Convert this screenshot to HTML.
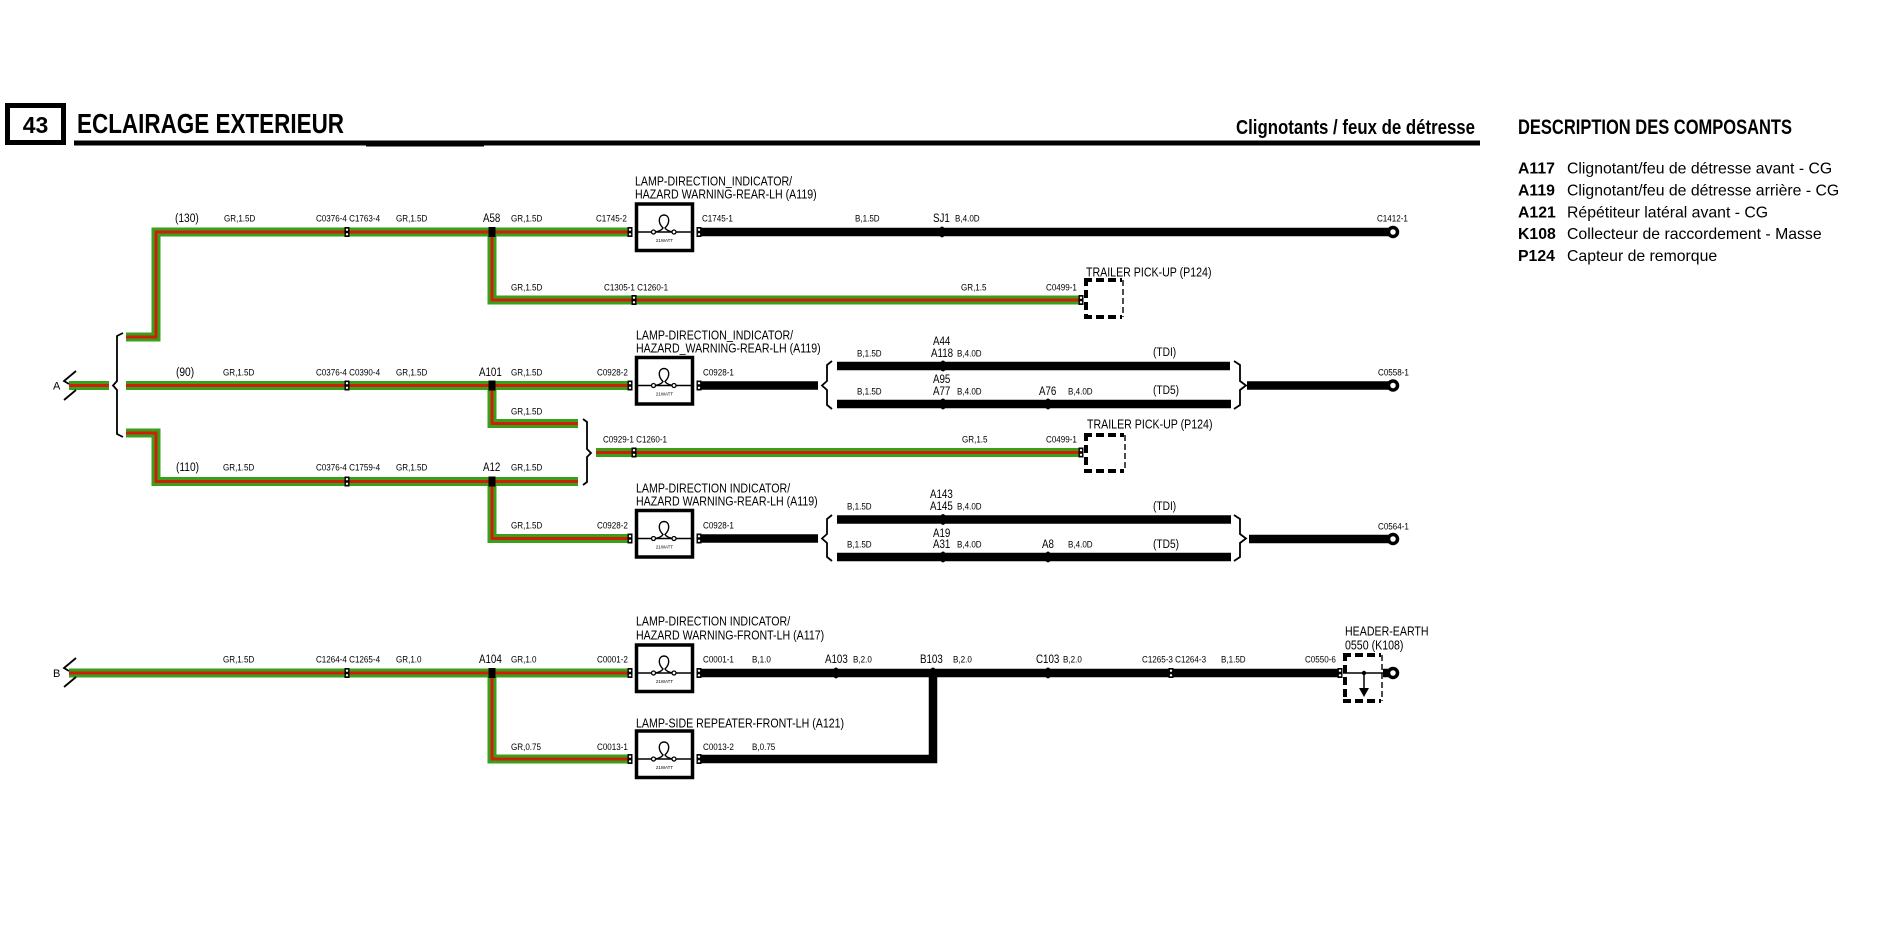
<!DOCTYPE html>
<html>
<head>
<meta charset="utf-8">
<style>
html,body{margin:0;padding:0;background:#fff;}
body{width:1886px;height:927px;overflow:hidden;}
svg{display:block;}
text{font-family:"Liberation Sans",Arial,sans-serif;fill:#000;}
.s{font-size:9.5px;}
.m{font-size:11.5px;}
.p{font-size:12px;}
.b{font-size:12.5px;}
.s,.m,.p,.b{transform-box:fill-box;transform-origin:0 0;transform:scaleX(0.85);}
.gw{fill:none;stroke:#39a01c;stroke-width:9;stroke-linejoin:miter;stroke-linecap:butt;}
.rw{fill:none;stroke:#cf1f0b;stroke-width:3;stroke-linejoin:miter;stroke-linecap:butt;}
.bw{fill:none;stroke:#000;stroke-width:8.5;stroke-linejoin:miter;stroke-linecap:butt;}
.br{fill:none;stroke:#000;stroke-width:1.8;stroke-linejoin:miter;}
.dt{fill:none;stroke:#000;stroke-width:4;stroke-dasharray:8 4;}
.dn{fill:none;stroke:#000;stroke-width:1.4;stroke-dasharray:6 3;}
.lb{fill:#fff;stroke:#000;stroke-width:3.5;}
.ln{fill:none;stroke:#000;stroke-width:1.4;}
.cir{fill:#fff;stroke:#000;stroke-width:1.3;}
.ring{fill:#fff;stroke:#000;stroke-width:3.5;}
</style>
</head>
<body>
<svg width="1886" height="927" viewBox="0 0 1886 927" xmlns="http://www.w3.org/2000/svg">
<defs>
  <g id="cn">
    <rect x="-2.5" y="-5" width="5" height="10" fill="#000"/>
    <circle cx="0" cy="-2.3" r="1.2" fill="#fff"/>
    <circle cx="0" cy="2.3" r="1.2" fill="#fff"/>
  </g>
  <g id="lamp">
    <rect class="lb" x="636.5" y="-28" width="56" height="46.5"/>
    <line x1="636" y1="0" x2="693" y2="0" stroke="#000" stroke-width="1.6"/>
    <path class="ln" d="M655,0 Q661,-1 663,-4 C657,-10 659,-17 664,-17 C669,-17 671,-10 665,-4 Q667,-1 673,0"/>
    <circle class="cir" cx="653.5" cy="0" r="2"/>
    <circle class="cir" cx="674" cy="0" r="2"/>
    <text x="664.5" y="10" font-size="4.5" text-anchor="middle">21WATT</text>
  </g>
  <ellipse id="sp" cx="0" cy="0" rx="3.2" ry="5.5" fill="#000"/>
</defs>

<!-- HEADER -->
<rect x="7.5" y="105.5" width="56" height="37" fill="none" stroke="#000" stroke-width="5"/>
<text x="35.5" y="133" font-size="23" font-weight="bold" text-anchor="middle">43</text>
<text x="77" y="133" font-size="27.5" font-weight="bold" textLength="267" lengthAdjust="spacingAndGlyphs">ECLAIRAGE EXTERIEUR</text>
<rect x="74" y="140.5" width="1406" height="5" fill="#000"/>
<rect x="366" y="143.5" width="118" height="3" fill="#000"/>
<text x="1236" y="134" font-size="20" font-weight="bold" textLength="239" lengthAdjust="spacingAndGlyphs">Clignotants / feux de détresse</text>

<text x="1518" y="134" font-size="21" font-weight="bold" textLength="274" lengthAdjust="spacingAndGlyphs">DESCRIPTION DES COMPOSANTS</text>
<g font-size="15.8">
  <text x="1518" y="173.5" font-weight="bold">A117</text><text x="1567" y="173.5">Clignotant/feu de détresse avant - CG</text>
  <text x="1518" y="195.4" font-weight="bold">A119</text><text x="1567" y="195.4">Clignotant/feu de détresse arrière - CG</text>
  <text x="1518" y="217.3" font-weight="bold">A121</text><text x="1567" y="217.3">Répétiteur latéral avant - CG</text>
  <text x="1518" y="239.2" font-weight="bold">K108</text><text x="1567" y="239.2">Collecteur de raccordement - Masse</text>
  <text x="1518" y="261.1" font-weight="bold">P124</text><text x="1567" y="261.1">Capteur de remorque</text>
</g>

<!-- GREEN/RED WIRES -->
<g class="gw">
  <path d="M126,337H156V232H630"/>
  <path d="M492,232V300H1081"/>
  <path d="M69,385.5H109"/>
  <path d="M126,385.5H630"/>
  <path d="M492,385.5V423.5H578"/>
  <path d="M126,433H156V481.5H578"/>
  <path d="M492,481.5V538.5H630"/>
  <path d="M596,452.5H1081"/>
  <path d="M69,673H630"/>
  <path d="M492,673V759H630"/>
</g>
<g class="rw">
  <path d="M126,337H156V232H630"/>
  <path d="M492,232V300H1081"/>
  <path d="M69,385.5H109"/>
  <path d="M126,385.5H630"/>
  <path d="M492,385.5V423.5H578"/>
  <path d="M126,433H156V481.5H578"/>
  <path d="M492,481.5V538.5H630"/>
  <path d="M596,452.5H1081"/>
  <path d="M69,673H630"/>
  <path d="M492,673V759H630"/>
</g>

<!-- BLACK WIRES -->
<g class="bw">
  <path d="M698,232H1389"/>
  <path d="M700,385.5H818"/>
  <path d="M837,366H1230"/>
  <path d="M837,404H1231"/>
  <path d="M1247,385.5H1389"/>
  <path d="M700,538.5H818"/>
  <path d="M837,519.5H1231"/>
  <path d="M837,557H1231"/>
  <path d="M1249,539H1389"/>
  <path d="M700,673H1340"/>
  <path d="M933,673V759H700"/>
  <path d="M1383,673H1389"/>
</g>

<!-- BRACKETS / CHEVRONS -->
<g class="br">
  <path d="M76,371L64,381L69,384"/>
  <path d="M64,400L76,390"/>
  <path d="M76,658L64,668L69,671"/>
  <path d="M64,687L76,677"/>
  <path d="M123,333L117,336V381L113,385.5L117,390V434L123,437"/>
  <path d="M583,419L587,422V449L591,453L587,457V482L583,485"/>
  <path d="M832,361L827,365V381L822,385.5L827,390V405L832,409"/>
  <path d="M832,515L827,519V534L822,538.5L827,543V557L832,561"/>
  <path d="M1234,361L1240,365V381L1246,385.5L1240,390V405L1234,409"/>
  <path d="M1234,515L1240,519V534L1246,538.5L1240,543V557L1234,561"/>
</g>

<!-- LAMPS -->
<use href="#lamp" x="0" y="232"/>
<use href="#lamp" x="0" y="385.5"/>
<use href="#lamp" x="0" y="538.5"/>
<use href="#lamp" x="0" y="673"/>
<use href="#lamp" x="0" y="759"/>

<!-- SPLICES (green) -->
<g fill="#000">
  <rect x="488.5" y="227" width="7" height="10"/>
  <rect x="488.5" y="380.5" width="7" height="10"/>
  <rect x="488.5" y="476.5" width="7" height="10"/>
  <rect x="488.5" y="668" width="7" height="10"/>
</g>
<!-- SPLICES (black) -->
<use href="#sp" x="942" y="232"/>
<use href="#sp" x="943" y="366"/>
<use href="#sp" x="943" y="404"/>
<use href="#sp" x="1048" y="404"/>
<use href="#sp" x="943" y="519.5"/>
<use href="#sp" x="943" y="557"/>
<use href="#sp" x="1048" y="557"/>
<use href="#sp" x="836" y="673"/>
<use href="#sp" x="933" y="673"/>
<use href="#sp" x="1048" y="673"/>

<!-- CONNECTORS -->
<use href="#cn" x="347" y="232"/>
<use href="#cn" x="347" y="385.5"/>
<use href="#cn" x="347" y="481.5"/>
<use href="#cn" x="347" y="673"/>
<use href="#cn" x="634" y="300"/>
<use href="#cn" x="634" y="452.5"/>
<use href="#cn" x="630" y="232"/>
<use href="#cn" x="630" y="385.5"/>
<use href="#cn" x="630" y="538.5"/>
<use href="#cn" x="630" y="673"/>
<use href="#cn" x="630" y="759"/>
<use href="#cn" x="699" y="232"/>
<use href="#cn" x="699" y="385.5"/>
<use href="#cn" x="699" y="538.5"/>
<use href="#cn" x="699" y="673"/>
<use href="#cn" x="699" y="759"/>
<use href="#cn" x="1081" y="300"/>
<use href="#cn" x="1081" y="452.5"/>
<use href="#cn" x="1171" y="673"/>
<use href="#cn" x="1340" y="673"/>

<!-- RINGS -->
<circle class="ring" cx="1393" cy="232" r="4.5"/>
<circle class="ring" cx="1393" cy="385.5" r="4.5"/>
<circle class="ring" cx="1393" cy="539" r="4.5"/>
<circle class="ring" cx="1393" cy="673" r="4.5"/>

<!-- DASHED BOXES -->
<g>
  <path class="dt" d="M1084,280H1122"/>
  <path class="dt" d="M1086,278V319"/>
  <path class="dt" d="M1084,317H1122"/>
  <path class="dn" d="M1123,280V317"/>

  <path class="dt" d="M1084,435H1124"/>
  <path class="dt" d="M1086,433V473"/>
  <path class="dt" d="M1084,471H1124"/>
  <path class="dn" d="M1125,435V471"/>

  <path class="dt" d="M1343,655H1381"/>
  <path class="dt" d="M1345,653V703"/>
  <path class="dt" d="M1343,701H1381"/>
  <path class="dn" d="M1382,655V701"/>
  <line x1="1343" y1="673" x2="1383" y2="673" stroke="#000" stroke-width="1.5"/>
  <circle cx="1364" cy="673" r="2.2" fill="#000"/>
  <line x1="1364" y1="673" x2="1364" y2="690" stroke="#000" stroke-width="1.5"/>
  <path d="M1359,688L1369,688L1364,697Z" fill="#000"/>
</g>

<!-- LETTER LABELS -->
<text x="53" y="389.5" font-size="11">A</text>
<text x="53" y="677" font-size="11">B</text>

<!-- BIG LABELS -->
<text class="b" x="635" y="185.5">LAMP-DIRECTION_INDICATOR/</text>
<text class="b" x="635" y="198.5">HAZARD WARNING-REAR-LH (A119)</text>
<text class="b" x="636" y="339.5">LAMP-DIRECTION_INDICATOR/</text>
<text class="b" x="636" y="352.5">HAZARD_WARNING-REAR-LH (A119)</text>
<text class="b" x="636" y="492.5">LAMP-DIRECTION INDICATOR/</text>
<text class="b" x="636" y="505.5">HAZARD WARNING-REAR-LH (A119)</text>
<text class="b" x="636" y="625.5">LAMP-DIRECTION INDICATOR/</text>
<text class="b" x="636" y="639.5">HAZARD WARNING-FRONT-LH (A117)</text>
<text class="b" x="636" y="727.5">LAMP-SIDE REPEATER-FRONT-LH (A121)</text>
<text class="b" x="1086" y="276.5">TRAILER PICK-UP (P124)</text>
<text class="b" x="1087" y="428.5">TRAILER PICK-UP (P124)</text>
<text class="b" x="1345" y="635.5">HEADER-EARTH</text>
<text class="b" x="1345" y="649.5">0550 (K108)</text>

<!-- MEDIUM LABELS -->
<text class="p" x="175" y="222">(130)</text>
<text class="m" x="483" y="222">A58</text>
<text class="m" x="933" y="222">SJ1</text>
<text class="p" x="176" y="376">(90)</text>
<text class="m" x="479" y="376">A101</text>
<text class="m" x="933" y="345">A44</text>
<text class="m" x="931" y="357">A118</text>
<text class="m" x="933" y="383">A95</text>
<text class="m" x="933" y="395">A77</text>
<text class="m" x="1039" y="395">A76</text>
<text class="p" x="1153" y="356">(TDI)</text>
<text class="p" x="1153" y="394">(TD5)</text>
<text class="p" x="176" y="471">(110)</text>
<text class="m" x="483" y="471">A12</text>
<text class="m" x="930" y="498">A143</text>
<text class="m" x="930" y="510">A145</text>
<text class="m" x="933" y="537">A19</text>
<text class="m" x="933" y="548">A31</text>
<text class="m" x="1042" y="548">A8</text>
<text class="p" x="1153" y="510">(TDI)</text>
<text class="p" x="1153" y="548">(TD5)</text>
<text class="m" x="479" y="663">A104</text>
<text class="m" x="825" y="663">A103</text>
<text class="m" x="920" y="663">B103</text>
<text class="m" x="1036" y="663">C103</text>

<!-- SMALL LABELS -->
<g>
  <text class="s" x="224" y="221.5">GR,1.5D</text>
  <text class="s" x="316" y="221.5">C0376-4 C1763-4</text>
  <text class="s" x="396" y="221.5">GR,1.5D</text>
  <text class="s" x="511" y="221.5">GR,1.5D</text>
  <text class="s" x="596" y="221.5">C1745-2</text>
  <text class="s" x="702" y="221.5">C1745-1</text>
  <text class="s" x="855" y="221.5">B,1.5D</text>
  <text class="s" x="955" y="221.5">B,4.0D</text>
  <text class="s" x="1377" y="221.5">C1412-1</text>

  <text class="s" x="511" y="290.5">GR,1.5D</text>
  <text class="s" x="604" y="290.5">C1305-1 C1260-1</text>
  <text class="s" x="961" y="290.5">GR,1.5</text>
  <text class="s" x="1046" y="290.5">C0499-1</text>

  <text class="s" x="223" y="375.5">GR,1.5D</text>
  <text class="s" x="316" y="375.5">C0376-4 C0390-4</text>
  <text class="s" x="396" y="375.5">GR,1.5D</text>
  <text class="s" x="511" y="375.5">GR,1.5D</text>
  <text class="s" x="597" y="375.5">C0928-2</text>
  <text class="s" x="703" y="375.5">C0928-1</text>
  <text class="s" x="1378" y="375.5">C0558-1</text>
  <text class="s" x="857" y="356.5">B,1.5D</text>
  <text class="s" x="957" y="356.5">B,4.0D</text>
  <text class="s" x="857" y="394.5">B,1.5D</text>
  <text class="s" x="957" y="394.5">B,4.0D</text>
  <text class="s" x="1068" y="394.5">B,4.0D</text>

  <text class="s" x="511" y="414.5">GR,1.5D</text>
  <text class="s" x="603" y="442.5">C0929-1 C1260-1</text>
  <text class="s" x="962" y="442.5">GR,1.5</text>
  <text class="s" x="1046" y="442.5">C0499-1</text>

  <text class="s" x="223" y="470.5">GR,1.5D</text>
  <text class="s" x="316" y="470.5">C0376-4 C1759-4</text>
  <text class="s" x="396" y="470.5">GR,1.5D</text>
  <text class="s" x="511" y="470.5">GR,1.5D</text>

  <text class="s" x="511" y="528.5">GR,1.5D</text>
  <text class="s" x="597" y="528.5">C0928-2</text>
  <text class="s" x="703" y="528.5">C0928-1</text>
  <text class="s" x="847" y="509.5">B,1.5D</text>
  <text class="s" x="957" y="509.5">B,4.0D</text>
  <text class="s" x="847" y="547.5">B,1.5D</text>
  <text class="s" x="957" y="547.5">B,4.0D</text>
  <text class="s" x="1068" y="547.5">B,4.0D</text>
  <text class="s" x="1378" y="529.5">C0564-1</text>

  <text class="s" x="223" y="662.5">GR,1.5D</text>
  <text class="s" x="316" y="662.5">C1264-4 C1265-4</text>
  <text class="s" x="396" y="662.5">GR,1.0</text>
  <text class="s" x="511" y="662.5">GR,1.0</text>
  <text class="s" x="597" y="662.5">C0001-2</text>
  <text class="s" x="703" y="662.5">C0001-1</text>
  <text class="s" x="752" y="662.5">B,1.0</text>
  <text class="s" x="853" y="662.5">B,2.0</text>
  <text class="s" x="953" y="662.5">B,2.0</text>
  <text class="s" x="1063" y="662.5">B,2.0</text>
  <text class="s" x="1142" y="662.5">C1265-3 C1264-3</text>
  <text class="s" x="1221" y="662.5">B,1.5D</text>
  <text class="s" x="1305" y="662.5">C0550-6</text>

  <text class="s" x="511" y="750">GR,0.75</text>
  <text class="s" x="597" y="750">C0013-1</text>
  <text class="s" x="703" y="750">C0013-2</text>
  <text class="s" x="752" y="750">B,0.75</text>
</g>
</svg>
</body>
</html>
